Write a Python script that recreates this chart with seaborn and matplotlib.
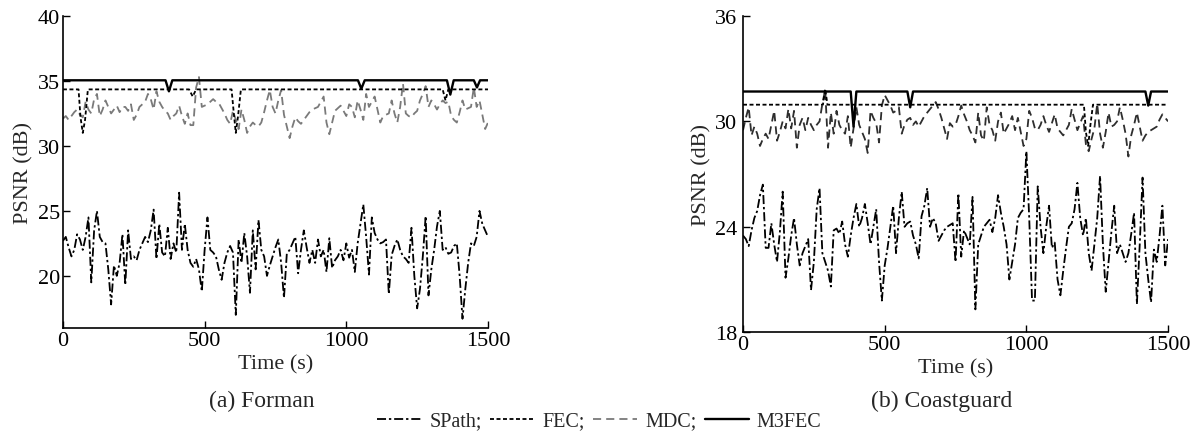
import numpy as np
import pandas as pd
import matplotlib
matplotlib.use("Agg")
import matplotlib.pyplot as plt
from matplotlib.lines import Line2D
import seaborn as sns

# ---------------- data ----------------
time_grid = list(range(0, 1501, 10))

forman_spath = [
    22.7, 23.0, 22.2, 21.5, 22.0, 23.2, 22.8, 22.0, 23.0, 24.5,
    19.5, 23.5, 25.0, 23.0, 22.6, 22.5, 20.5, 17.8, 20.8, 20.0,
    21.0, 23.2, 19.3, 23.5, 21.3, 21.5, 21.2, 22.0, 22.5, 23.0,
    22.6, 23.5, 25.1, 21.3, 24.0, 21.8, 21.5, 23.7, 21.3, 22.5,
    21.8, 26.4, 22.0, 24.0, 22.0, 21.0, 20.7, 21.3, 20.5, 18.8,
    22.0, 24.5, 22.0, 21.8, 21.5, 20.5, 19.7, 21.0, 21.8, 22.3,
    21.8, 17.0, 22.8, 21.0, 23.3, 21.5, 18.7, 23.5, 20.5, 24.3,
    22.0, 21.5, 20.0, 20.8, 21.5, 22.2, 22.8, 21.0, 18.3, 21.7,
    22.0, 22.5, 23.0, 20.2, 22.0, 23.5, 22.2, 21.0, 22.0, 21.0,
    22.8, 21.5, 22.0, 20.3, 22.9, 20.6, 21.2, 21.5, 22.0, 21.2,
    22.5, 21.4, 22.0, 20.3, 22.5, 24.0, 25.5, 23.0, 20.1, 24.5,
    23.3, 22.8, 22.5, 22.6, 22.8, 18.6, 21.6, 22.3, 22.8, 22.0,
    21.5, 21.3, 21.0, 23.7, 20.0, 17.5, 19.0, 21.5, 24.6, 18.5,
    20.5, 22.0, 23.8, 25.0, 22.0, 22.2, 21.7, 21.8, 22.3, 22.5,
    20.0, 16.7, 19.0, 21.0, 22.5, 22.3, 23.0, 25.0, 24.0, 23.5,
    23.0,
]

forman_mdc = [
    32.1, 32.3, 32.0, 32.3, 32.6, 32.8, 32.4, 32.2, 33.4, 32.8,
    32.5, 33.6, 34.0, 32.3, 32.8, 33.5, 33.0, 32.5, 32.8, 33.1,
    32.6, 33.0, 33.0, 32.7, 33.2, 32.0, 32.4, 33.0, 33.2, 33.4,
    34.0, 33.6, 32.8, 34.2, 33.4, 33.0, 32.7, 32.5, 32.0, 32.3,
    32.5, 33.1, 32.3, 31.7, 32.5, 31.6, 31.6, 34.5, 35.3, 33.0,
    33.1, 33.2, 33.4, 33.6, 33.4, 33.3, 32.9, 32.5, 32.0, 31.7,
    32.7, 32.0, 31.3, 32.8, 32.0, 31.0, 31.5, 31.8, 31.6, 31.5,
    31.8, 32.6, 33.5, 34.3, 33.0, 32.5, 33.5, 34.3, 32.4, 31.5,
    30.6, 31.5, 32.2, 31.9, 31.7, 32.0, 32.3, 32.6, 32.8, 32.9,
    33.0, 33.4, 33.8, 31.8, 30.9, 31.8, 32.7, 32.9, 33.1, 32.7,
    32.3, 33.2, 33.0, 32.2, 33.5, 32.8, 32.0, 34.0, 33.0, 33.4,
    33.8, 32.8, 31.8, 32.3, 32.4, 32.5, 33.5, 32.5, 31.8, 33.0,
    34.8, 32.5, 32.3, 32.2, 32.5, 32.7, 33.5, 34.0, 34.6, 33.0,
    33.5, 33.2, 32.8, 33.2, 33.5, 33.3, 33.4, 32.3, 32.0, 31.8,
    32.6, 33.5, 32.8, 32.9, 33.0, 34.5, 33.0, 33.5, 32.4, 31.3,
    31.8,
]

forman_fec_t = [0, 55, 62, 70, 78, 88, 445, 458, 470, 595, 603, 610, 618, 628, 1340, 1350, 1360, 1500]
forman_fec_v = [34.35, 34.35, 32.2, 31.0, 32.0, 34.35, 34.35, 33.8, 34.35, 34.35, 32.5, 31.0, 32.3, 34.35, 34.35, 33.5, 34.35, 34.35]

forman_m3fec_t = [0, 362, 374, 386, 1041, 1053, 1065, 1355, 1367, 1379, 1450, 1461, 1472, 1500]
forman_m3fec_v = [35.05, 35.05, 34.2, 35.05, 35.05, 34.4, 35.05, 35.05, 33.95, 35.05, 35.05, 34.5, 35.05, 35.05]

coast_spath = [
    23.5, 23.3, 22.9, 23.8, 24.5, 24.9, 25.8, 26.4, 22.8, 22.8,
    24.2, 23.0, 22.0, 23.7, 26.0, 21.1, 22.2, 23.5, 24.5, 23.0,
    21.8, 22.5, 22.9, 23.3, 20.4, 22.0, 25.0, 26.2, 22.5, 22.0,
    21.5, 20.6, 23.8, 23.9, 23.6, 24.3, 23.0, 22.3, 23.5, 24.5,
    25.3, 24.0, 24.5, 25.3, 24.2, 23.0, 24.0, 25.0, 22.0, 19.8,
    21.8, 22.8, 24.0, 25.2, 22.5, 24.5, 26.0, 24.0, 24.2, 24.3,
    23.5, 23.0, 22.2, 24.6, 25.2, 26.2, 24.0, 24.5, 24.2, 23.2,
    23.5, 23.8, 24.0, 24.1, 24.2, 22.0, 25.9, 22.3, 23.8, 23.4,
    23.0, 25.7, 19.3, 23.0, 23.5, 24.0, 24.2, 24.4, 23.7, 24.5,
    25.8, 24.8, 24.0, 23.0, 21.0, 22.0, 23.0, 24.5, 24.8, 25.0,
    28.3, 24.5, 19.8, 19.8, 26.3, 24.0, 22.5, 24.0, 25.2, 22.8,
    23.1, 21.0, 20.1, 21.5, 22.8, 24.0, 24.2, 25.0, 26.5, 24.5,
    23.5, 24.5, 22.5, 21.5, 23.0, 24.5, 26.9, 23.0, 20.3, 22.0,
    23.7, 25.2, 22.5, 23.0, 22.5, 22.0, 22.5, 23.6, 24.8, 19.6,
    23.0, 26.8, 22.5, 21.0, 19.7, 22.7, 22.0, 23.5, 25.2, 21.8,
    23.3,
]

coast_mdc = [
    29.5, 30.2, 30.8, 29.2, 29.7, 29.3, 28.6, 29.0, 29.3, 29.0,
    29.8, 30.6, 28.9, 29.4, 30.0, 29.6, 30.7, 29.6, 30.6, 28.5,
    29.8, 30.2, 29.5, 30.2, 29.8, 29.5, 29.8, 30.0, 31.0, 31.8,
    28.5, 30.5, 29.3, 30.6, 29.8, 29.5, 29.3, 30.3, 28.5, 29.6,
    30.8, 29.8, 29.4, 29.0, 28.2, 30.6, 30.2, 29.9, 28.8, 30.9,
    31.5, 31.2, 30.9, 30.5, 30.6, 30.8, 29.3, 29.8, 30.1, 30.2,
    29.8, 30.0, 29.7, 30.0, 30.3, 30.5, 30.7, 30.9, 31.1, 30.7,
    30.2, 29.6, 29.0, 29.9, 29.7, 29.8, 30.3, 30.9, 30.4, 30.0,
    29.5, 29.2, 28.8, 30.5, 29.2, 28.9, 30.8, 29.8, 29.5, 28.9,
    30.0, 30.5, 29.3, 29.6, 29.9, 30.3, 29.5, 30.2, 29.4, 28.6,
    29.0, 30.6, 30.2, 29.6, 29.5, 29.8, 30.3, 29.8, 29.4, 29.9,
    30.4, 29.6, 29.4, 29.2, 29.5, 29.8, 30.7, 30.1, 29.5, 29.9,
    30.3, 28.7, 28.3, 29.0, 29.6, 31.0, 29.3, 28.5, 29.4, 30.5,
    29.7, 29.8, 30.0, 30.8, 30.1, 29.3, 28.0, 29.2, 29.8, 30.5,
    29.7, 28.9, 29.2, 29.4, 29.5, 29.6, 29.7, 30.1, 30.4, 30.2,
    30.0,
]

coast_fec_t = [0, 282, 290, 298, 1203, 1210, 1218, 1226, 1235, 1500]
coast_fec_v = [30.95, 30.95, 31.85, 30.95, 30.95, 29.4, 28.6, 29.8, 30.95, 30.95]

coast_m3fec_t = [0, 380, 390, 400, 580, 590, 600, 1420, 1430, 1440, 1500]
coast_m3fec_v = [31.7, 31.7, 29.7, 31.7, 31.7, 30.8, 31.7, 31.7, 30.9, 31.7, 31.7]

x_ticks = [0, 500, 1000, 1500]
forman_yticks = [20, 25, 30, 35, 40]
coast_yticks = [18, 24, 30, 36]

# ---------------- style ----------------
sns.set_theme(style="ticks")
plt.rcParams["font.family"] = ["Liberation Serif", "DejaVu Serif"]

TICK_FS = 16
LABEL_FS = 16
CAPTION_FS = 17
LEGEND_FS = 14.5
DASHDOT = (0, (5, 1.6, 1.3, 1.6))
DOTTED = (0, (2.2, 1.4))
DASHED = (0, (4.5, 2.8))

fig = plt.figure(figsize=(11.99, 4.35), dpi=100)
ax_a = fig.add_axes([0.0525, 0.244, 0.3545, 0.717])
ax_b = fig.add_axes([0.6197, 0.234, 0.3545, 0.727])


def draw_panel(ax, spath, mdc, fec_t, fec_v, m3_t, m3_v, mdc_color, ylim, yticks, ypad):
    sns.lineplot(x=time_grid, y=spath, ax=ax, color="black", lw=1.3,
                 linestyle=DASHDOT, estimator=None, sort=False)
    sns.lineplot(x=time_grid, y=mdc, ax=ax, color=mdc_color, lw=1.3,
                 linestyle=DASHED, estimator=None, sort=False)
    sns.lineplot(x=fec_t, y=fec_v, ax=ax, color="black", lw=1.3,
                 linestyle=DOTTED, estimator=None, sort=False)
    sns.lineplot(x=m3_t, y=m3_v, ax=ax, color="black", lw=1.7,
                 linestyle="-", estimator=None, sort=False)
    ax.set_xlim(0, 1500)
    ax.set_ylim(*ylim)
    ax.set_xticks(x_ticks)
    ax.set_yticks(yticks)
    ax.tick_params(direction="in", length=5, width=1.0, labelsize=TICK_FS,
                   colors="black")
    ax.tick_params(axis="y", pad=ypad)
    ax.tick_params(axis="x", pad=2)
    for side in ("top", "right"):
        ax.spines[side].set_visible(False)
    for side in ("left", "bottom"):
        ax.spines[side].set_linewidth(1.2)
        ax.spines[side].set_color("black")
    ax.set_xlabel("Time (s)", fontsize=LABEL_FS, labelpad=3)
    ax.set_ylabel("PSNR (dB)", fontsize=LABEL_FS, labelpad=3)


draw_panel(ax_a, forman_spath, forman_mdc, forman_fec_t, forman_fec_v,
           forman_m3fec_t, forman_m3fec_v, "#7a7a7a", (16, 40), forman_yticks, 2)
draw_panel(ax_b, coast_spath, coast_mdc, coast_fec_t, coast_fec_v,
           coast_m3fec_t, coast_m3fec_v, "#2e2e2e", (18, 36), coast_yticks, 4)

fig.text(262 / 1199, 1 - 401 / 435, "(a) Forman", ha="center", va="center", fontsize=CAPTION_FS)
fig.text(942 / 1199, 1 - 401 / 435, "(b) Coastguard", ha="center", va="center", fontsize=CAPTION_FS)

# shared legend below both panels
handles = [
    Line2D([], [], color="black", lw=1.3, linestyle=DASHDOT),
    Line2D([], [], color="black", lw=1.3, linestyle=DOTTED),
    Line2D([], [], color="#7a7a7a", lw=1.3, linestyle=DASHED),
    Line2D([], [], color="black", lw=1.7, linestyle="-"),
]
labels = ["SPath;", "FEC;", "MDC;", "M3FEC"]
fig.legend(handles, labels, loc="center", bbox_to_anchor=(0.5, 1 - 422 / 435),
           ncol=4, frameon=False, fontsize=LEGEND_FS, handlelength=2.2,
           handletextpad=0.4, columnspacing=0.4, borderaxespad=0, borderpad=0)

fig.savefig("out.png", dpi=100)
